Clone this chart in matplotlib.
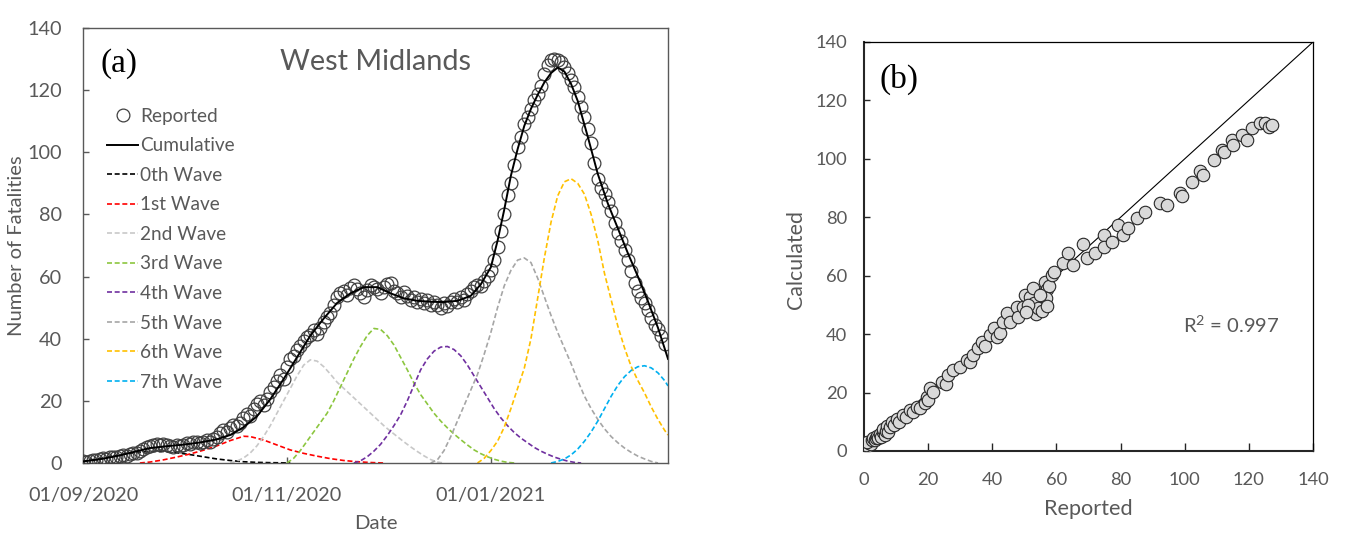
import matplotlib
matplotlib.use("Agg")
import matplotlib.pyplot as plt
import numpy as np
import pandas as pd

# ---------------- data: panel (a) ----------------
start_date = "2020-09-01"
x_end_day = 175
x_tick_dates = ["2020-09-01", "2020-11-01", "2021-01-01"]
x_tick_labels = ["01/09/2020", "01/11/2020", "01/01/2021"]
y_ticks_a = [0, 20, 40, 60, 80, 100, 120, 140]

# reported daily fatalities (day 0 = 01/09/2020)
reported = [0.6, 0.3, 0.8, 1.0, 0.9, 1.3, 1.5, 1.2, 1.8, 2.0,
            1.8, 2.3, 2.6, 2.4, 3.0, 3.3, 3.1, 3.8, 4.4, 5.3,
            5.6, 5.8, 6.0, 5.7, 6.1, 5.9, 5.6, 5.3, 5.8, 5.5,
            5.9, 6.3, 6.0, 6.6, 6.9, 6.4, 6.8, 7.3, 6.9, 7.6,
            8.4, 9.8, 10.5, 9.9, 11.3, 12.2, 11.8, 12.9, 14.5, 15.8,
            15.0, 17.3, 19.1, 19.8, 18.6, 20.5, 23.0, 24.6, 26.5, 28.2,
            27.0, 30.8, 33.5, 34.3, 36.4, 37.8, 39.3, 40.6, 41.2, 42.8,
            41.5, 43.6, 45.4, 46.9, 48.3, 50.8, 53.4, 54.7, 55.5, 54.2,
            56.4, 57.2, 56.0, 54.8, 53.5, 55.6, 57.3, 56.8, 55.9, 54.7,
            56.8, 57.6, 57.8, 55.4, 54.6, 53.5, 54.9, 53.7, 52.4, 53.3,
            51.9, 52.8, 51.4, 52.6, 50.7, 51.7, 50.9, 49.9, 51.4, 50.6,
            51.8, 52.9, 51.9, 53.3, 52.6, 54.5, 55.5, 56.8, 57.4, 57.0,
            58.5, 60.3, 62.0, 65.3, 69.5, 74.8, 80.0, 86.1, 90.0, 95.8,
            101.7, 105.0, 109.2, 111.4, 113.8, 116.7, 118.8, 121.5, 125.3, 128.0,
            129.6, 130.1, 129.7, 129.0, 127.6, 125.5, 123.3, 121.0, 117.8, 114.6,
            111.5, 107.4, 103.0, 96.5, 91.3, 88.5, 86.6, 84.0, 81.0, 77.2,
            74.1, 71.5, 68.4, 65.3, 61.8, 57.9, 55.2, 53.0, 51.4, 49.2,
            46.8, 44.5, 43.2, 40.8, 38.2]

cum_days = [0, 5, 10, 15, 20, 25, 30, 35, 40, 44, 48, 52, 56, 60, 64, 68, 72,
            76, 80, 84, 88, 92, 96, 100, 104, 108, 112, 116, 119, 122, 124,
            126, 128, 130, 132, 134, 136, 138, 140, 142, 144, 146, 148, 151,
            154, 157, 160, 163, 166, 169, 172, 175]
cumulative = [0.5, 1.2, 2.2, 3.5, 4.8, 5.4, 5.9, 6.6, 7.6, 9.0, 11.5, 15.0,
              20.5, 27.0, 34.0, 41.0, 46.5, 51.5, 54.6, 56.6, 56.6, 54.6, 53.0,
              52.2, 51.9, 51.8, 52.2, 53.8, 57.5, 63.0, 71.5, 81.5, 92.5, 101.0,
              108.5, 114.0, 118.5, 122.5, 125.5, 127.3, 126.0, 122.0, 116.5,
              105.0, 93.0, 83.5, 75.5, 67.5, 60.0, 52.0, 43.5, 33.5]

wave0_days = [0, 4, 8, 12, 16, 20, 24, 28, 32, 36, 40, 44, 48, 52, 56, 60, 62]
wave0 = [0.5, 1.2, 2.0, 2.8, 3.4, 3.7, 3.7, 3.3, 2.7, 2.0, 1.3, 0.8, 0.4,
         0.2, 0.1, 0.05, 0.0]

wave1_days = [17, 20, 24, 28, 32, 36, 40, 44, 48, 50, 54, 58, 62, 66, 70, 74,
              78, 82, 86, 90]
wave1 = [0.0, 0.3, 1.0, 1.9, 2.9, 4.1, 5.5, 7.2, 8.6, 8.5, 7.4, 5.8, 4.2,
         3.1, 2.2, 1.4, 0.8, 0.4, 0.15, 0.0]

wave2_days = [44, 46, 48, 50, 52, 54, 56, 58, 60, 62, 64, 66, 68, 70, 72, 74,
              76, 78, 80, 82, 84, 86, 88, 90, 92, 94, 96, 98, 100, 102, 104,
              106, 108]
wave2 = [0.0, 0.6, 1.6, 3.2, 5.5, 8.5, 12.0, 16.0, 20.0, 24.0, 28.0, 31.5,
         33.2, 32.8, 31.0, 28.6, 26.0, 24.0, 22.0, 20.0, 18.0, 16.0, 14.0,
         12.0, 10.2, 8.5, 6.8, 5.2, 3.7, 2.3, 1.1, 0.3, 0.0]

wave3_days = [61, 63, 65, 67, 69, 71, 73, 75, 77, 79, 81, 83, 85, 87, 89, 91,
              93, 95, 97, 99, 101, 103, 105, 107, 109, 111, 113, 115, 117, 119,
              121, 123, 125, 127, 129]
wave3 = [0.0, 1.5, 4.0, 7.0, 10.0, 13.0, 16.0, 20.0, 24.5, 29.0, 33.5, 37.5,
         41.0, 43.3, 43.0, 41.0, 38.0, 34.0, 30.0, 25.7, 22.0, 19.0, 16.0,
         13.5, 11.3, 9.3, 7.5, 5.8, 4.2, 3.0, 2.0, 1.2, 0.6, 0.2, 0.0]

wave4_days = [81, 83, 85, 87, 89, 91, 93, 95, 97, 99, 101, 103, 105, 107, 109,
              111, 113, 115, 117, 119, 121, 123, 125, 127, 129, 131, 133, 135,
              137, 139, 141, 143, 145, 147, 149]
wave4 = [0.0, 0.7, 2.0, 3.8, 6.0, 8.8, 12.0, 15.5, 20.0, 25.0, 30.0, 33.5,
         36.0, 37.3, 37.5, 36.5, 34.5, 31.5, 28.0, 24.5, 21.0, 17.5, 14.5,
         12.0, 9.8, 8.0, 6.5, 5.0, 3.8, 2.8, 1.9, 1.2, 0.6, 0.2, 0.0]

wave5_days = [104, 106, 108, 110, 112, 114, 116, 118, 120, 122, 124, 126, 128,
              130, 132, 134, 136, 138, 140, 142, 144, 146, 148, 150, 152, 154,
              156, 158, 160, 162, 164, 166, 168, 170, 172]
wave5 = [0.0, 1.0, 4.0, 8.5, 13.5, 18.5, 23.5, 28.5, 35.0, 42.0, 50.0, 57.0,
         62.0, 65.3, 66.0, 64.5, 59.5, 53.5, 47.5, 42.0, 37.0, 32.0, 26.5,
         21.5, 17.5, 14.0, 11.0, 8.5, 6.5, 4.8, 3.4, 2.2, 1.3, 0.5, 0.0]

wave6_days = [118, 120, 122, 124, 126, 128, 130, 132, 134, 136, 138, 140, 142,
              144, 146, 148, 150, 152, 154, 156, 158, 160, 162, 164, 166, 168,
              170, 172, 174, 175]
wave6 = [0.0, 1.5, 4.0, 7.0, 11.5, 17.5, 24.0, 30.5, 40.0, 53.0, 66.0, 77.5,
         86.0, 90.5, 91.5, 90.0, 86.5, 80.0, 71.5, 61.0, 52.5, 44.0, 37.0,
         31.0, 26.5, 22.5, 18.0, 14.0, 10.5, 9.0]

wave7_days = [140, 142, 144, 146, 148, 150, 152, 154, 156, 158, 160, 162, 164,
              166, 168, 170, 172, 174, 175]
wave7 = [0.0, 0.5, 1.3, 2.6, 4.5, 7.0, 10.0, 13.5, 17.5, 21.5, 25.0, 27.8,
         29.8, 31.0, 31.3, 30.6, 29.0, 26.5, 24.8]

wave_labels = ["0th Wave", "1st Wave", "2nd Wave", "3rd Wave", "4th Wave",
               "5th Wave", "6th Wave", "7th Wave"]
wave_colors = ["#000000", "#FF0000", "#C8C8C8", "#8CC63F", "#7030A0",
               "#A6A6A6", "#FFC000", "#00B0F0"]

# ---------------- data: panel (b) ----------------
reported_b = [0.2, 0.5, 0.8, 1.0, 0.3, 1.2, 0.6, 1.5, 1.9, 2.2, 1.0, 2.6, 2.9,
              3.3, 3.8, 4.0, 4.5, 5.0, 5.3, 5.8, 6.0, 6.4, 6.8, 7.1, 7.5, 8.0,
              8.6, 9.3, 10.2, 10.8, 12.2, 13.0, 14.3, 15.2, 16.4, 17.5, 19.0,
              19.5, 20.0, 20.6, 21.5, 24.2, 25.5, 26.3, 27.9, 29.9, 32.0, 33.2,
              34.1, 35.6, 36.7, 37.8, 39.3, 40.4, 41.4, 42.5, 43.4, 44.5, 45.5,
              47.6, 48.1, 49.7, 50.2, 51.8, 52.8, 52.8, 53.5, 54.9, 55.9, 56.4,
              56.4, 57.2, 57.8, 58.5, 59.1, 53.0, 54.2, 55.5, 51.0, 50.5, 56.8,
              57.0, 55.0, 62.2, 63.7, 65.3, 68.4, 69.4, 72.0, 74.7, 74.7, 77.3,
              79.3, 80.9, 82.4, 85.0, 87.6, 92.3, 94.4, 98.5, 99.3, 102.2,
              104.8, 105.6, 109.0, 111.6, 112.1, 114.7, 115.2, 117.8, 119.4,
              120.9, 123.5, 125.0, 126.2, 127.1]
calculated_b = [0.5, 0.8, 1.2, 0.6, 1.5, 1.8, 2.2, 2.6, 3.0, 2.4, 3.2, 3.6,
                4.3, 3.9, 4.6, 5.1, 4.4, 5.8, 4.9, 6.4, 7.6, 5.6, 7.0, 8.7, 6.6,
                8.2, 9.8, 8.8, 11.0, 10.0, 12.3, 11.6, 14.0, 13.2, 15.2, 14.8,
                16.3, 18.6, 17.5, 21.5, 20.2, 23.7, 22.8, 26.0, 27.7, 28.9,
                31.2, 30.5, 32.9, 35.2, 37.4, 36.0, 39.7, 42.0, 39.1, 40.5,
                44.3, 47.1, 44.3, 49.4, 46.0, 49.4, 53.4, 52.8, 55.7, 48.3,
                47.0, 51.7, 54.0, 50.6, 58.0, 55.3, 56.5, 60.3, 61.4, 50.5,
                49.0, 48.0, 50.0, 47.5, 52.5, 49.5, 53.5, 64.3, 67.7, 63.7,
                70.9, 66.0, 67.7, 73.9, 69.9, 71.7, 77.4, 73.9, 76.2, 79.6,
                81.9, 84.8, 84.2, 88.2, 87.3, 92.2, 95.7, 94.5, 99.6, 103.0,
                102.5, 106.5, 104.8, 108.2, 106.5, 110.5, 112.2, 112.2, 110.8,
                111.6]
diag_line = [0, 140]
axis_ticks_b = [0, 20, 40, 60, 80, 100, 120, 140]
r2_text = r"R$^{\mathrm{2}}$ = 0.997"

# ---------------- figure ----------------
FONT = ["Lato", "DejaVu Sans"]
TXT = "#595959"
plt.rcParams["font.family"] = FONT
plt.rcParams["mathtext.fontset"] = "custom"
plt.rcParams["mathtext.rm"] = "Lato"
plt.rcParams["mathtext.it"] = "Lato:italic"
plt.rcParams["mathtext.bf"] = "Lato:bold"

fig = plt.figure(figsize=(13.46, 5.41), dpi=100)

# ---- panel (a)
ax = fig.add_axes([0.0617, 0.1442, 0.4346, 0.8040])
t0 = pd.Timestamp(start_date)


def dates(days):
    return t0 + pd.to_timedelta(np.asarray(days, dtype=float), unit="D")


wave_days = [wave0_days, wave1_days, wave2_days, wave3_days, wave4_days,
             wave5_days, wave6_days, wave7_days]
wave_vals = [wave0, wave1, wave2, wave3, wave4, wave5, wave6, wave7]

h_rep, = ax.plot(dates(np.arange(len(reported))), reported, linestyle="none",
                 marker="o", markersize=9.2, markerfacecolor="none",
                 markeredgecolor="#404040", markeredgewidth=0.9,
                 label="Reported", zorder=3)
h_cum, = ax.plot(dates(cum_days), cumulative, color="black", lw=1.4,
                 label="Cumulative", zorder=4)
handles = [h_rep, h_cum]
for d, v, c, lab in zip(wave_days, wave_vals, wave_colors, wave_labels):
    h, = ax.plot(dates(d), v, color=c, lw=1.2, linestyle=(0, (3.0, 1.6)),
                 label=lab, zorder=2)
    handles.append(h)

ax.set_xlim(t0, t0 + pd.Timedelta(days=x_end_day))
ax.set_ylim(0, 140)
ax.set_yticks(y_ticks_a)
ax.set_xticks([pd.Timestamp(s) for s in x_tick_dates])
ax.set_xticklabels(x_tick_labels)
ax.tick_params(axis="both", direction="in", length=4, width=1,
               colors="#595959", labelcolor=TXT, labelsize=14.3)
ax.tick_params(axis="y", pad=15)
ax.tick_params(axis="x", pad=17)
for s in ax.spines.values():
    s.set_color("#595959")
    s.set_linewidth(1.0)
ax.set_ylabel("Number of Fatalities", fontsize=14.5, color=TXT, labelpad=2)
ax.set_xlabel("Date", fontsize=14.6, color=TXT, labelpad=8)
ax.text(0.5, 0.923, "West Midlands", transform=ax.transAxes, fontsize=20.8,
        color=TXT, ha="center", va="center")
ax.text(0.029, 0.918, "(a)", transform=ax.transAxes, fontsize=24,
        family="Liberation Serif", color="black", ha="left", va="center")
leg = ax.legend(handles=handles, loc="upper left",
                bbox_to_anchor=(0.041, 0.817), frameon=False, fontsize=13.7,
                handlelength=1.63, handletextpad=0.1, labelspacing=0.66,
                borderpad=0, borderaxespad=0)
for t in leg.get_texts():
    t.set_color(TXT)

# ---- panel (b)
bx = fig.add_axes([0.6419, 0.1664, 0.3336, 0.7560])
bx.plot(diag_line, diag_line, color="black", lw=0.8, zorder=2)
bx.plot(reported_b, calculated_b, linestyle="none", marker="o",
        markersize=9.0, markerfacecolor="#D9D9D9", markeredgecolor="#262626",
        markeredgewidth=0.8, zorder=3)
bx.set_xlim(0, 140)
bx.set_ylim(0, 140)
bx.set_xticks(axis_ticks_b)
bx.set_yticks(axis_ticks_b)
bx.tick_params(axis="both", direction="in", width=1, colors="#262626",
               labelcolor=TXT, labelsize=13.2)
bx.tick_params(axis="x", length=6, pad=15)
bx.tick_params(axis="y", length=4, pad=12)
for side in ["left", "bottom"]:
    bx.spines[side].set_color("#262626")
    bx.spines[side].set_linewidth(1.5)
for side in ["top", "right"]:
    bx.spines[side].set_color("black")
    bx.spines[side].set_linewidth(0.9)
bx.set_ylabel("Calculated", fontsize=15.4, color=TXT)
bx.yaxis.set_label_coords(-0.13, 0.467)
bx.set_xlabel("Reported", fontsize=15.6, color=TXT, labelpad=8)
bx.text(0.71, 0.308, r2_text, transform=bx.transAxes, fontsize=14.6,
        color=TXT, ha="left", va="center")
bx.text(0.035, 0.908, "(b)", transform=bx.transAxes, fontsize=24,
        family="Liberation Serif", color="black", ha="left", va="center")

fig.savefig("out.png", dpi=100)
